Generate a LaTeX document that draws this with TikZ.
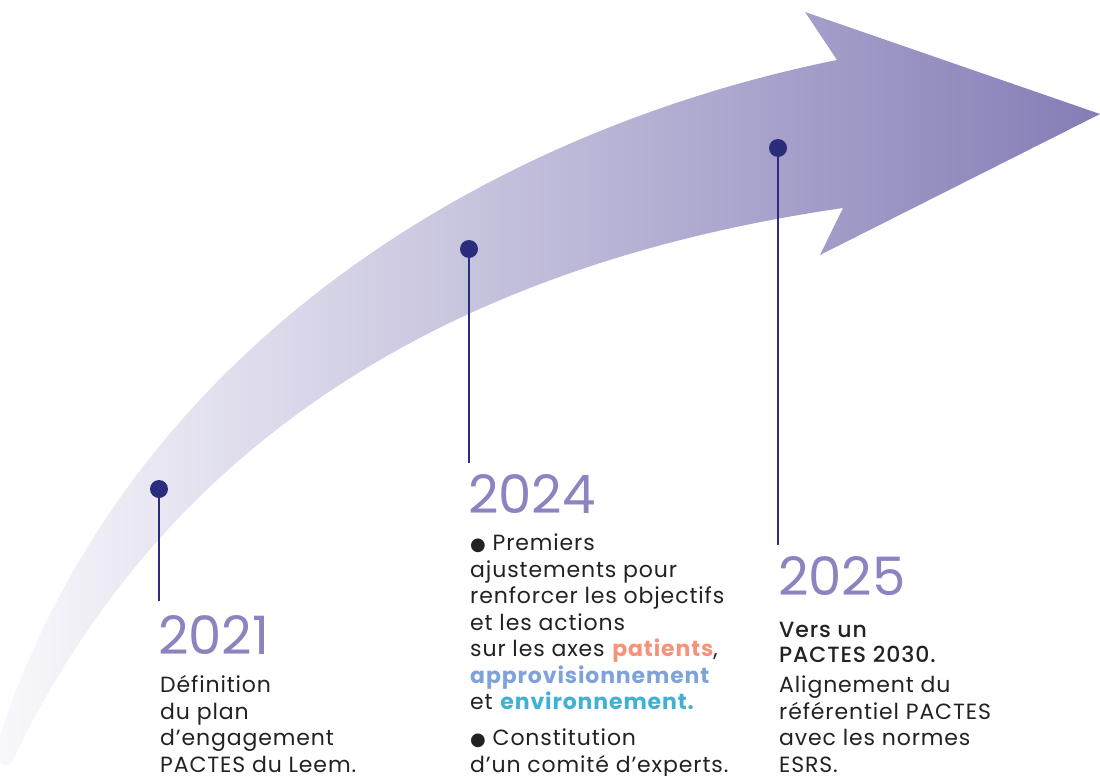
\documentclass[tikz,border=0pt]{standalone}
\usepackage{fontspec}
\setmainfont{Poppins}[LetterSpace=4]
\newfontfamily\yearfont{Poppins}
\newfontfamily\medfont{Poppins Medium}[LetterSpace=4]
\newfontfamily\symfont{DejaVu Sans}
\definecolor{navy}{HTML}{2B2D7C}
\definecolor{yearpurple}{HTML}{8B84C0}
\definecolor{bodygray}{HTML}{222222}
\definecolor{salmon}{HTML}{F4937A}
\definecolor{skyblue}{HTML}{7FA3D9}
\definecolor{cyanblue}{HTML}{41B0D5}
\newcommand{\blt}{{\symfont\fontsize{18}{26.5}\selectfont ●}}
\tikzset{
    arrowfill/.style={left color=white!95!yearpurple, right color=yearpurple!95!black!100, shading angle=90, draw=none},
    dot/.style={circle, fill=navy, inner sep=0pt, minimum size=18pt},
    stem/.style={-, draw=navy, line width=2pt},
    year/.style={anchor=base west, inner sep=0pt, text=yearpurple, font=\yearfont\fontsize{53}{53}\selectfont},
    body/.style={anchor=base west, inner sep=0pt, align=left, text=bodygray, font=\fontsize{22}{26.5}\selectfont},
}
\begin{document}
\begin{tikzpicture}[x=1pt, y=-1pt]
    \useasboundingbox (0,0) rectangle (1100,776);
    % big arrow
    \shade[arrowfill] (0,735) .. controls (130,345) and (490,130) .. (837,60)
        -- (805,12) -- (1100,114) -- (820,255) -- (843,208)
        .. controls (443,266) and (162,447) .. (12,762)
        .. controls (6,770) and (-6,762) .. (-4,750) -- cycle;

    % milestones
    \node[dot] (dot2021) at (159,489) {};
    \node[dot] (dot2024) at (469,249) {};
    \node[dot] (dot2025) at (778,148) {};
    \coordinate (foot2021) at (159,601);
    \coordinate (foot2024) at (469,463);
    \coordinate (foot2025) at (778,545);
    \draw[stem] (dot2021.center) -- (foot2021);
    \draw[stem] (dot2024.center) -- (foot2024);
    \draw[stem] (dot2025.center) -- (foot2025);

    % years
    \node[year] (year2021) at (158,654) {2021};
    \node[year] (year2024) at (468,513) {2024};
    \node[year] (year2025) at (778,595) {2025};

    % texts (base anchor sits on the last line)
    \node[body] (text2021) at (160,772) {Définition\\du plan\\d'engagement\\PACTES du Leem.};
    \node[body] (text2024) at (470,772) {\blt{} Premiers\\ajustements pour\\renforcer les objectifs\\et les actions\\sur les axes \textbf{\color{salmon}patients},\\\textbf{\color{skyblue}approvisionnement}\\et \textbf{\color{cyanblue}environnement.}\\[9.5pt]\blt{} Constitution\\d'un comité d'experts.};
    \node[body, font=\medfont\fontsize{22}{25}\selectfont] (head2025) at (779,662) {Vers un\\PACTES 2030.};
    \node[body] (text2025) at (779,772) {Alignement du\\référentiel PACTES\\avec les normes\\ESRS.};
\end{tikzpicture}
\end{document}
